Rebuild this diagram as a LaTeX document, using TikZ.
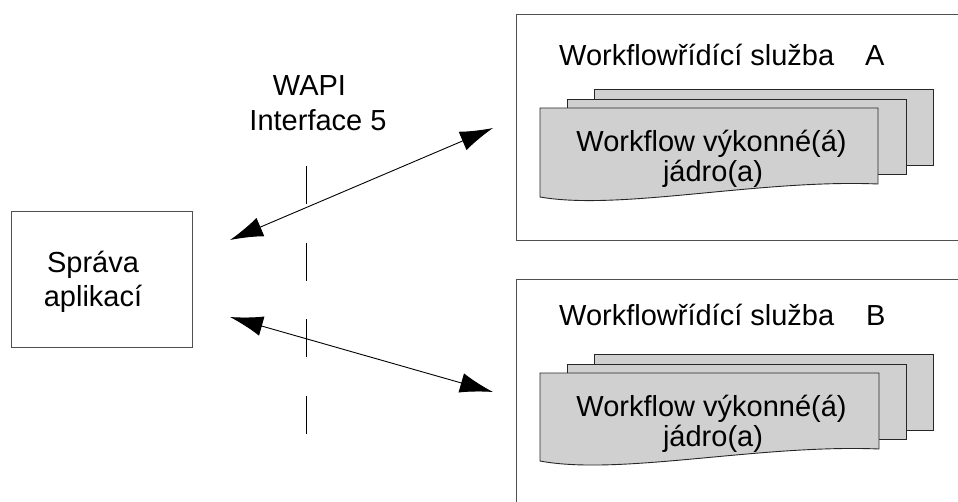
\documentclass[tikz,border=0pt]{standalone}
\usepackage{fontspec}
\setmainfont{Liberation Sans}
\usetikzlibrary{arrows.meta}
\definecolor{docgray}{HTML}{D0D0D0}
\definecolor{framegray}{HTML}{505050}
\begin{document}
\begin{tikzpicture}[x=1pt,y=-1pt,
  frame/.style={draw=framegray, line width=1pt, inner sep=0pt},
  page/.style={draw=black!85, fill=docgray, line width=0.9pt},
  lbl/.style={font=\fontsize{29}{30}\selectfont, inner sep=0pt, anchor=base},
  lblw/.style={lbl, anchor=base west},
  biarrow/.style={draw=black, line width=0.9pt, {Latex[length=33pt,width=20pt]}-{Latex[length=33pt,width=20pt]}},
  iface/.style={draw=black, line width=0.8pt, dash pattern=on 38pt off 38.5pt}]
\useasboundingbox (0,0) rectangle (958,501);
\clip (0,0) rectangle (958,501);
\fill[white] (0,0) rectangle (958,501);

% application management box
\node[frame, minimum width=181pt, minimum height=136pt] (mgr) at (101.5,279) {};
\node[lbl] (mgr1) at (93,272.7) {Správa};
\node[lbl] (mgr2) at (93,306.7) {aplikací};

% interface label and dashed line
\node[lbl] (wapi) at (309.5,95.7) {WAPI};
\node[lbl] (if5) at (318,130) {Interface 5};
\coordinate (d1) at (306,166);
\coordinate (d2) at (306,436);
\draw[iface] (d1) -- (d2);

% service A
\node[frame, anchor=north west, minimum width=480pt, minimum height=226pt] (svcA) at (516,14) {};
\node[lblw] (tA) at (559,65) {Workflowřídící služba};
\node[lblw] (tAl) at (865,65) {A};
\draw[page] (594,89) rectangle (933,165);
\draw[page] (567,99) rectangle (906,174);
\draw[page] (540,108) -- (878,108) -- (878,184) .. controls (760,179) and (620,211) .. (540,197) -- cycle;
\node[lbl] (eA1) at (711.5,151.7) {Workflow výkonné(á)};
\node[lbl] (eA2) at (713,181.7) {jádro(a)};

% service B
\node[frame, anchor=north west, minimum width=480pt, minimum height=260pt] (svcB) at (516,279) {};
\node[lblw] (tB) at (559,325) {Workflowřídící služba};
\node[lblw] (tBl) at (866,325) {B};
\draw[page] (594,354) rectangle (933,430);
\draw[page] (567,364) rectangle (906,439);
\draw[page] (540,373) -- (879,373) -- (879,449) .. controls (760,444) and (620,476) .. (540,461) -- cycle;
\node[lbl] (eB1) at (711.5,416.7) {Workflow výkonné(á)};
\node[lbl] (eB2) at (713,446.7) {jádro(a)};

% arrows
\coordinate (a1) at (230,240);
\coordinate (a2) at (493,128);
\coordinate (b1) at (230,317);
\coordinate (b2) at (493,392);
\draw[biarrow] (a1) -- (a2);
\draw[biarrow] (b1) -- (b2);
\end{tikzpicture}
\end{document}
